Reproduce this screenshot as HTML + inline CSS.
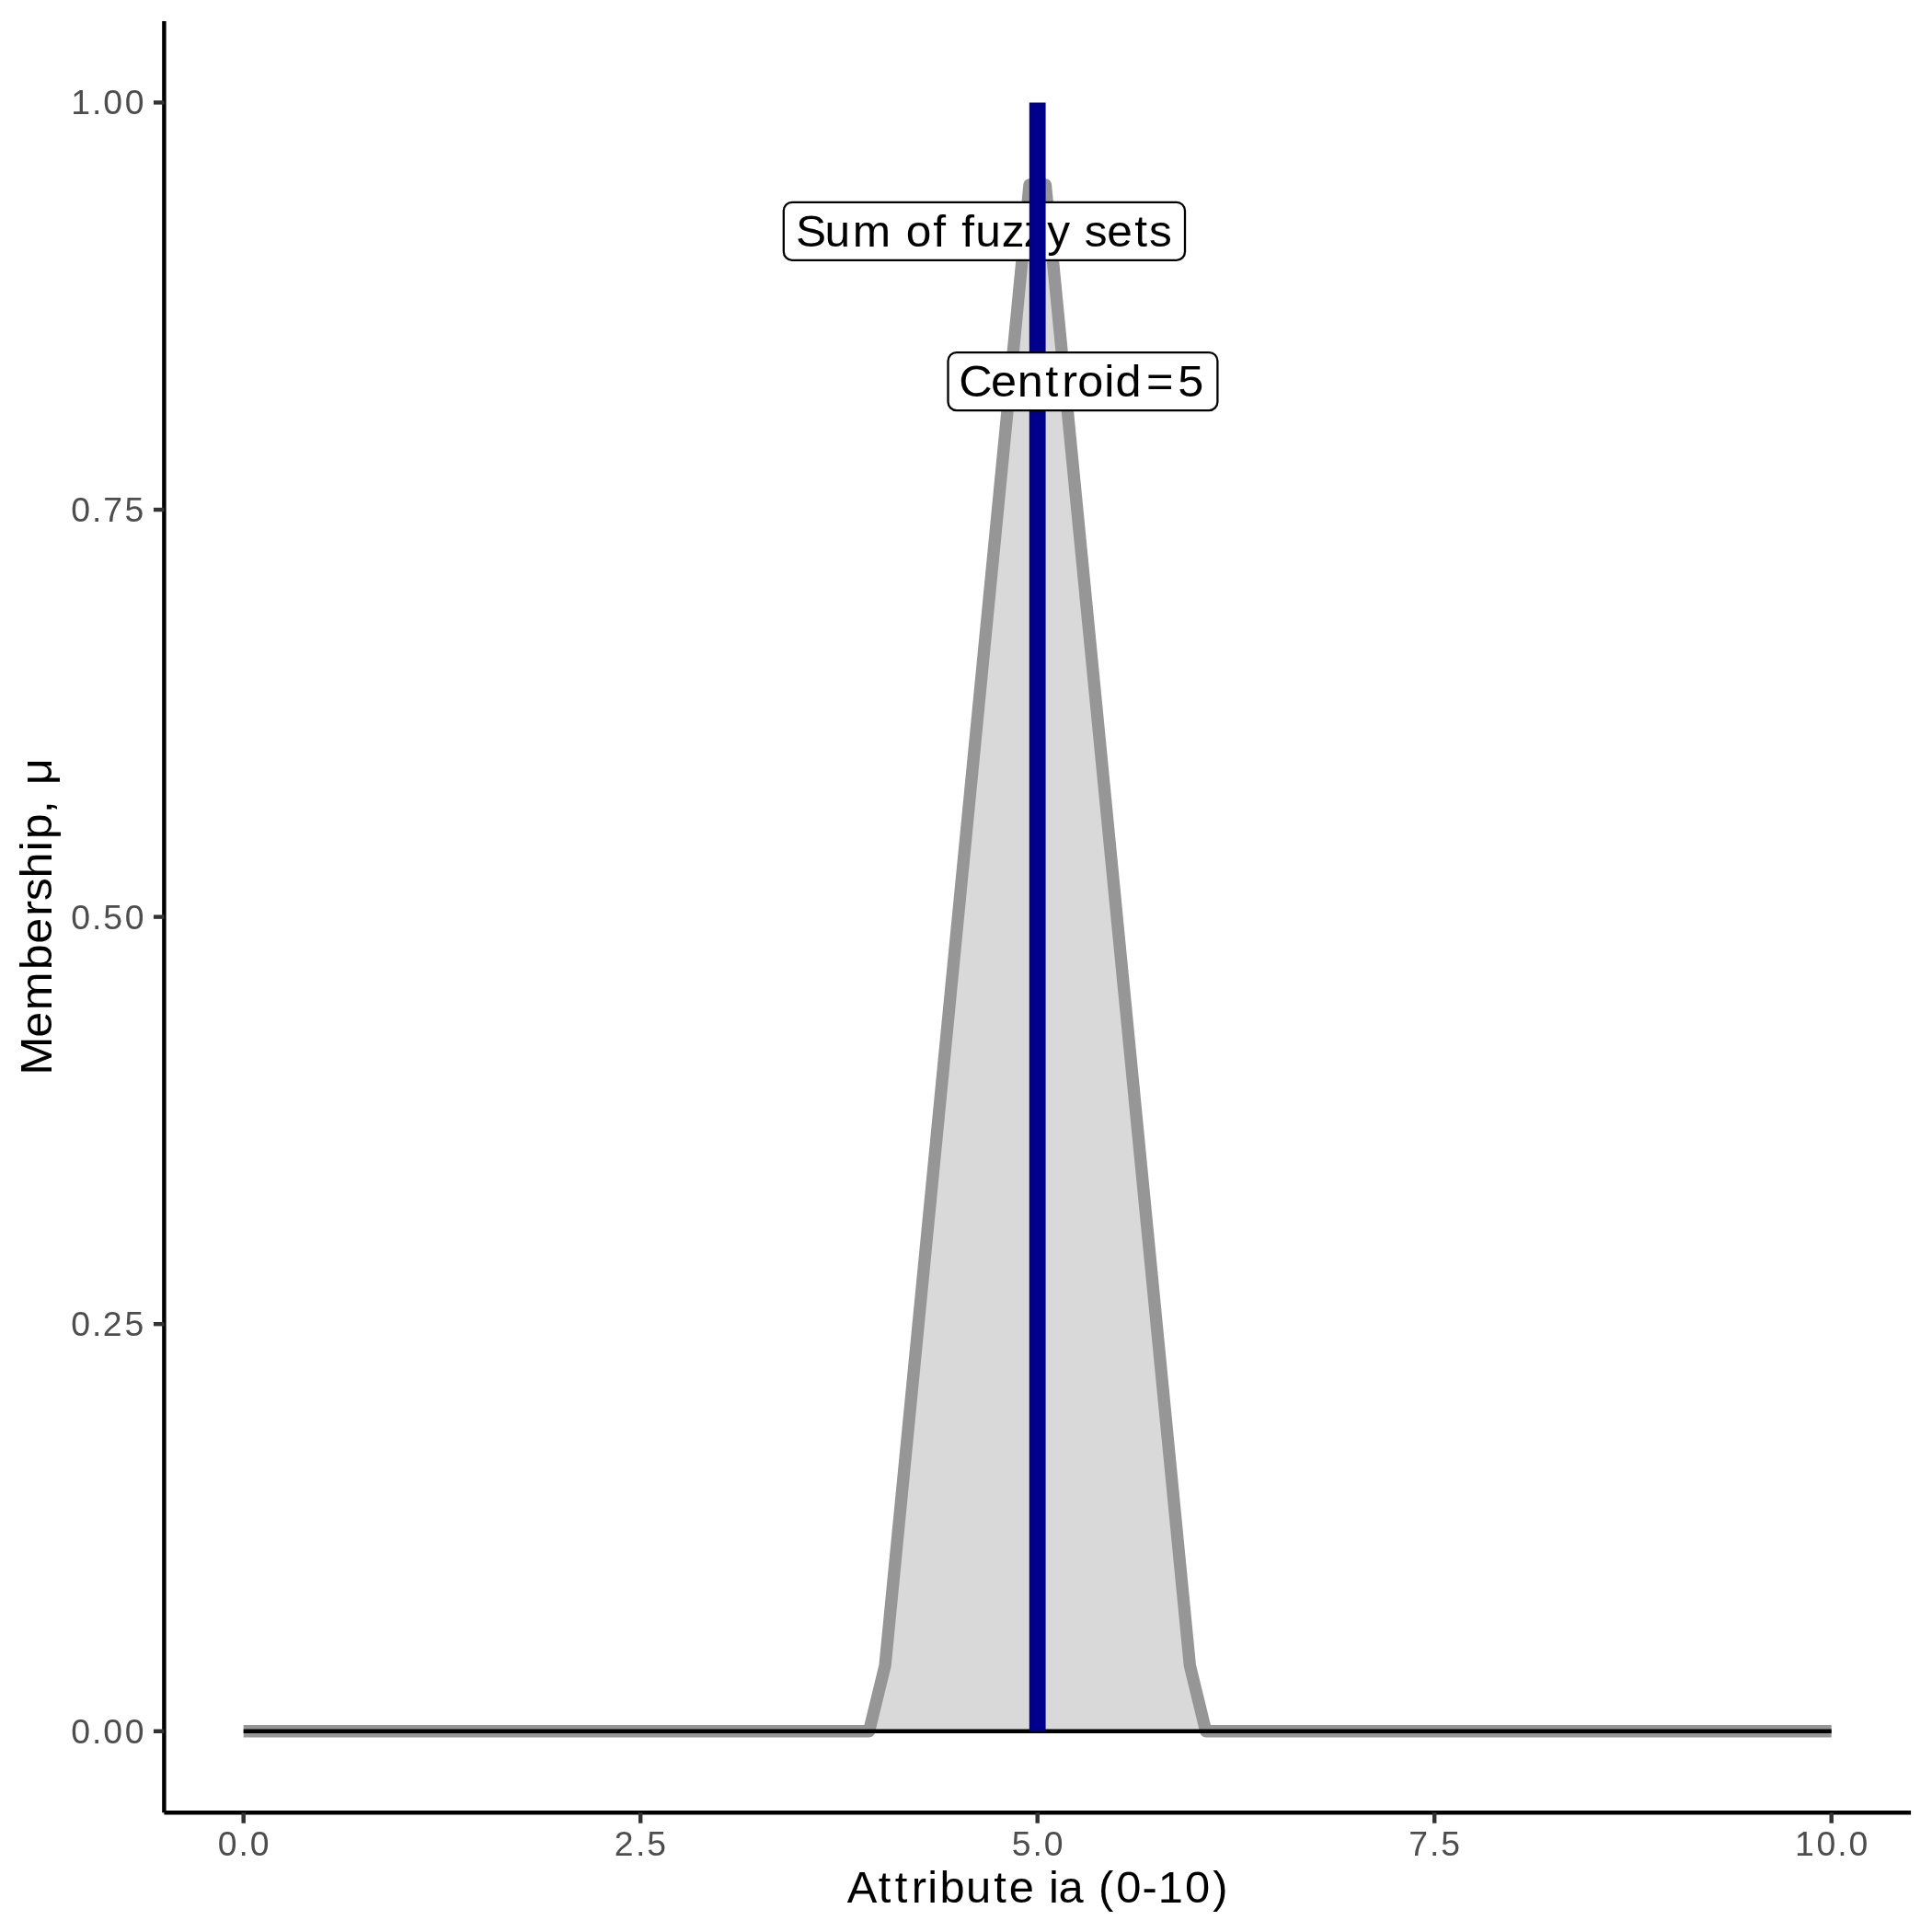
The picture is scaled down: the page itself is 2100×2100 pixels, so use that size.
<!DOCTYPE html>
<html>
<head>
<meta charset="utf-8">
<style>
html,body{margin:0;padding:0;background:#fff;}
body{width:2100px;height:2100px;overflow:hidden;}
svg{display:block;will-change:transform;}
text{font-family:"Liberation Sans",sans-serif;}
</style>
</head>
<body>
<svg width="2100" height="2100" viewBox="0 0 2100 2100">
<polygon points="264.70,1881.78 944.64,1881.78 962.07,1810.25 1118.98,200.84 1136.42,200.84 1293.33,1810.25 1310.76,1881.78 1990.70,1881.78" fill="#d9d9d9"/>
<polyline points="264.70,1881.78 944.64,1881.78 962.07,1810.25 1118.98,200.84 1136.42,200.84 1293.33,1810.25 1310.76,1881.78 1990.70,1881.78" fill="none" stroke="#969696" stroke-width="13.34" stroke-linejoin="round" stroke-linecap="butt"/>
<line x1="264.70" y1="1881.78" x2="1990.70" y2="1881.78" stroke="#000" stroke-width="4.45"/>
<rect x="851.8" y="219.8" width="436.2" height="63.1" rx="9.3" ry="9.3" fill="#fff" stroke="#000" stroke-width="2.3"/>
<text transform="translate(866.65 267.80) scale(1.0302 1)" x="-1.66 28.99 58.43 100.14 114.60 143.38 157.37 173.29 187.94 215.48 238.91 263.61 288.88 302.98 326.76 355.75 371.22" y="0" font-size="48.2" fill="#000">Sum of fuzzy sets</text>
<line x1="1127.70" y1="111.43" x2="1127.70" y2="1881.78" stroke="#00008b" stroke-width="17.78"/>
<rect x="1030.5" y="383.05" width="292.9" height="63.05" rx="9.3" ry="9.3" fill="#fff" stroke="#000" stroke-width="2.3"/>
<text transform="translate(1044.72 430.90) scale(1.0474 1)" x="-2.33 30.86 58.29 87.31 104.54 120.84 148.44 160.17 192.09 224.94" y="0" font-size="48.2" fill="#000">Centroid=5</text>
<line x1="178.4" y1="22.92" x2="178.4" y2="1970.3" stroke="#000" stroke-width="4.45"/>
<line x1="178.4" y1="1970.3" x2="2077.08" y2="1970.3" stroke="#000" stroke-width="4.45"/>
<g stroke="#333" stroke-width="4.45">
<line x1="166.94" y1="111.43" x2="178.4" y2="111.43"/>
<line x1="166.94" y1="554.02" x2="178.4" y2="554.02"/>
<line x1="166.94" y1="996.61" x2="178.4" y2="996.61"/>
<line x1="166.94" y1="1439.19" x2="178.4" y2="1439.19"/>
<line x1="166.94" y1="1881.78" x2="178.4" y2="1881.78"/>
<line x1="264.70" y1="1970.3" x2="264.70" y2="1981.76"/>
<line x1="696.20" y1="1970.3" x2="696.20" y2="1981.76"/>
<line x1="1127.70" y1="1970.3" x2="1127.70" y2="1981.76"/>
<line x1="1559.20" y1="1970.3" x2="1559.20" y2="1981.76"/>
<line x1="1990.70" y1="1970.3" x2="1990.70" y2="1981.76"/>
</g>
<text transform="translate(76.12 124.33) scale(1.0000 1)" x="1.08 23.95 36.24 59.57" y="0" font-size="37.4" fill="#4d4d4d">1.00</text>
<text transform="translate(76.12 566.92) scale(1.0000 1)" x="1.26 23.95 36.17 59.43" y="0" font-size="37.4" fill="#4d4d4d">0.75</text>
<text transform="translate(76.12 1009.50) scale(1.0000 1)" x="1.26 23.95 36.10 59.57" y="0" font-size="37.4" fill="#4d4d4d">0.50</text>
<text transform="translate(76.12 1452.09) scale(1.0000 1)" x="1.26 23.95 35.76 59.43" y="0" font-size="37.4" fill="#4d4d4d">0.25</text>
<text transform="translate(76.12 1894.68) scale(1.0000 1)" x="1.26 23.95 36.24 59.57" y="0" font-size="37.4" fill="#4d4d4d">0.00</text>
<text transform="translate(235.54 2016.80) scale(1.0000 1)" x="1.26 23.95 36.24" y="0" font-size="37.4" fill="#4d4d4d">0.0</text>
<text transform="translate(667.04 2016.80) scale(1.0000 1)" x="0.77 23.95 36.10" y="0" font-size="37.4" fill="#4d4d4d">2.5</text>
<text transform="translate(1098.54 2016.80) scale(1.0000 1)" x="1.11 23.95 36.24" y="0" font-size="37.4" fill="#4d4d4d">5.0</text>
<text transform="translate(1530.04 2016.80) scale(1.0000 1)" x="1.18 23.95 36.10" y="0" font-size="37.4" fill="#4d4d4d">7.5</text>
<text transform="translate(1949.88 2016.80) scale(1.0000 1)" x="1.08 24.59 47.28 59.57" y="0" font-size="37.4" fill="#4d4d4d">10.0</text>
<text transform="translate(921.29 2067.90) scale(1.0177 1)" x="-0.62 32.84 50.50 68.23 85.58 98.36 126.55 156.31 172.52 199.63 214.89 225.19 254.05 267.94 286.90 314.72 331.55 360.45 390.14" y="0" font-size="48.0" fill="#000">Attribute ia (0-10)</text>
<text transform="translate(55.90 1167.39) rotate(-90) scale(1.0470 1)" x="-1.10 37.98 66.15 108.14 135.34 163.86 179.78 203.41 231.38 243.57 270.40 284.47 299.95" y="0" font-size="48.0" fill="#000">Membership, μ</text>
</svg>
</body>
</html>
